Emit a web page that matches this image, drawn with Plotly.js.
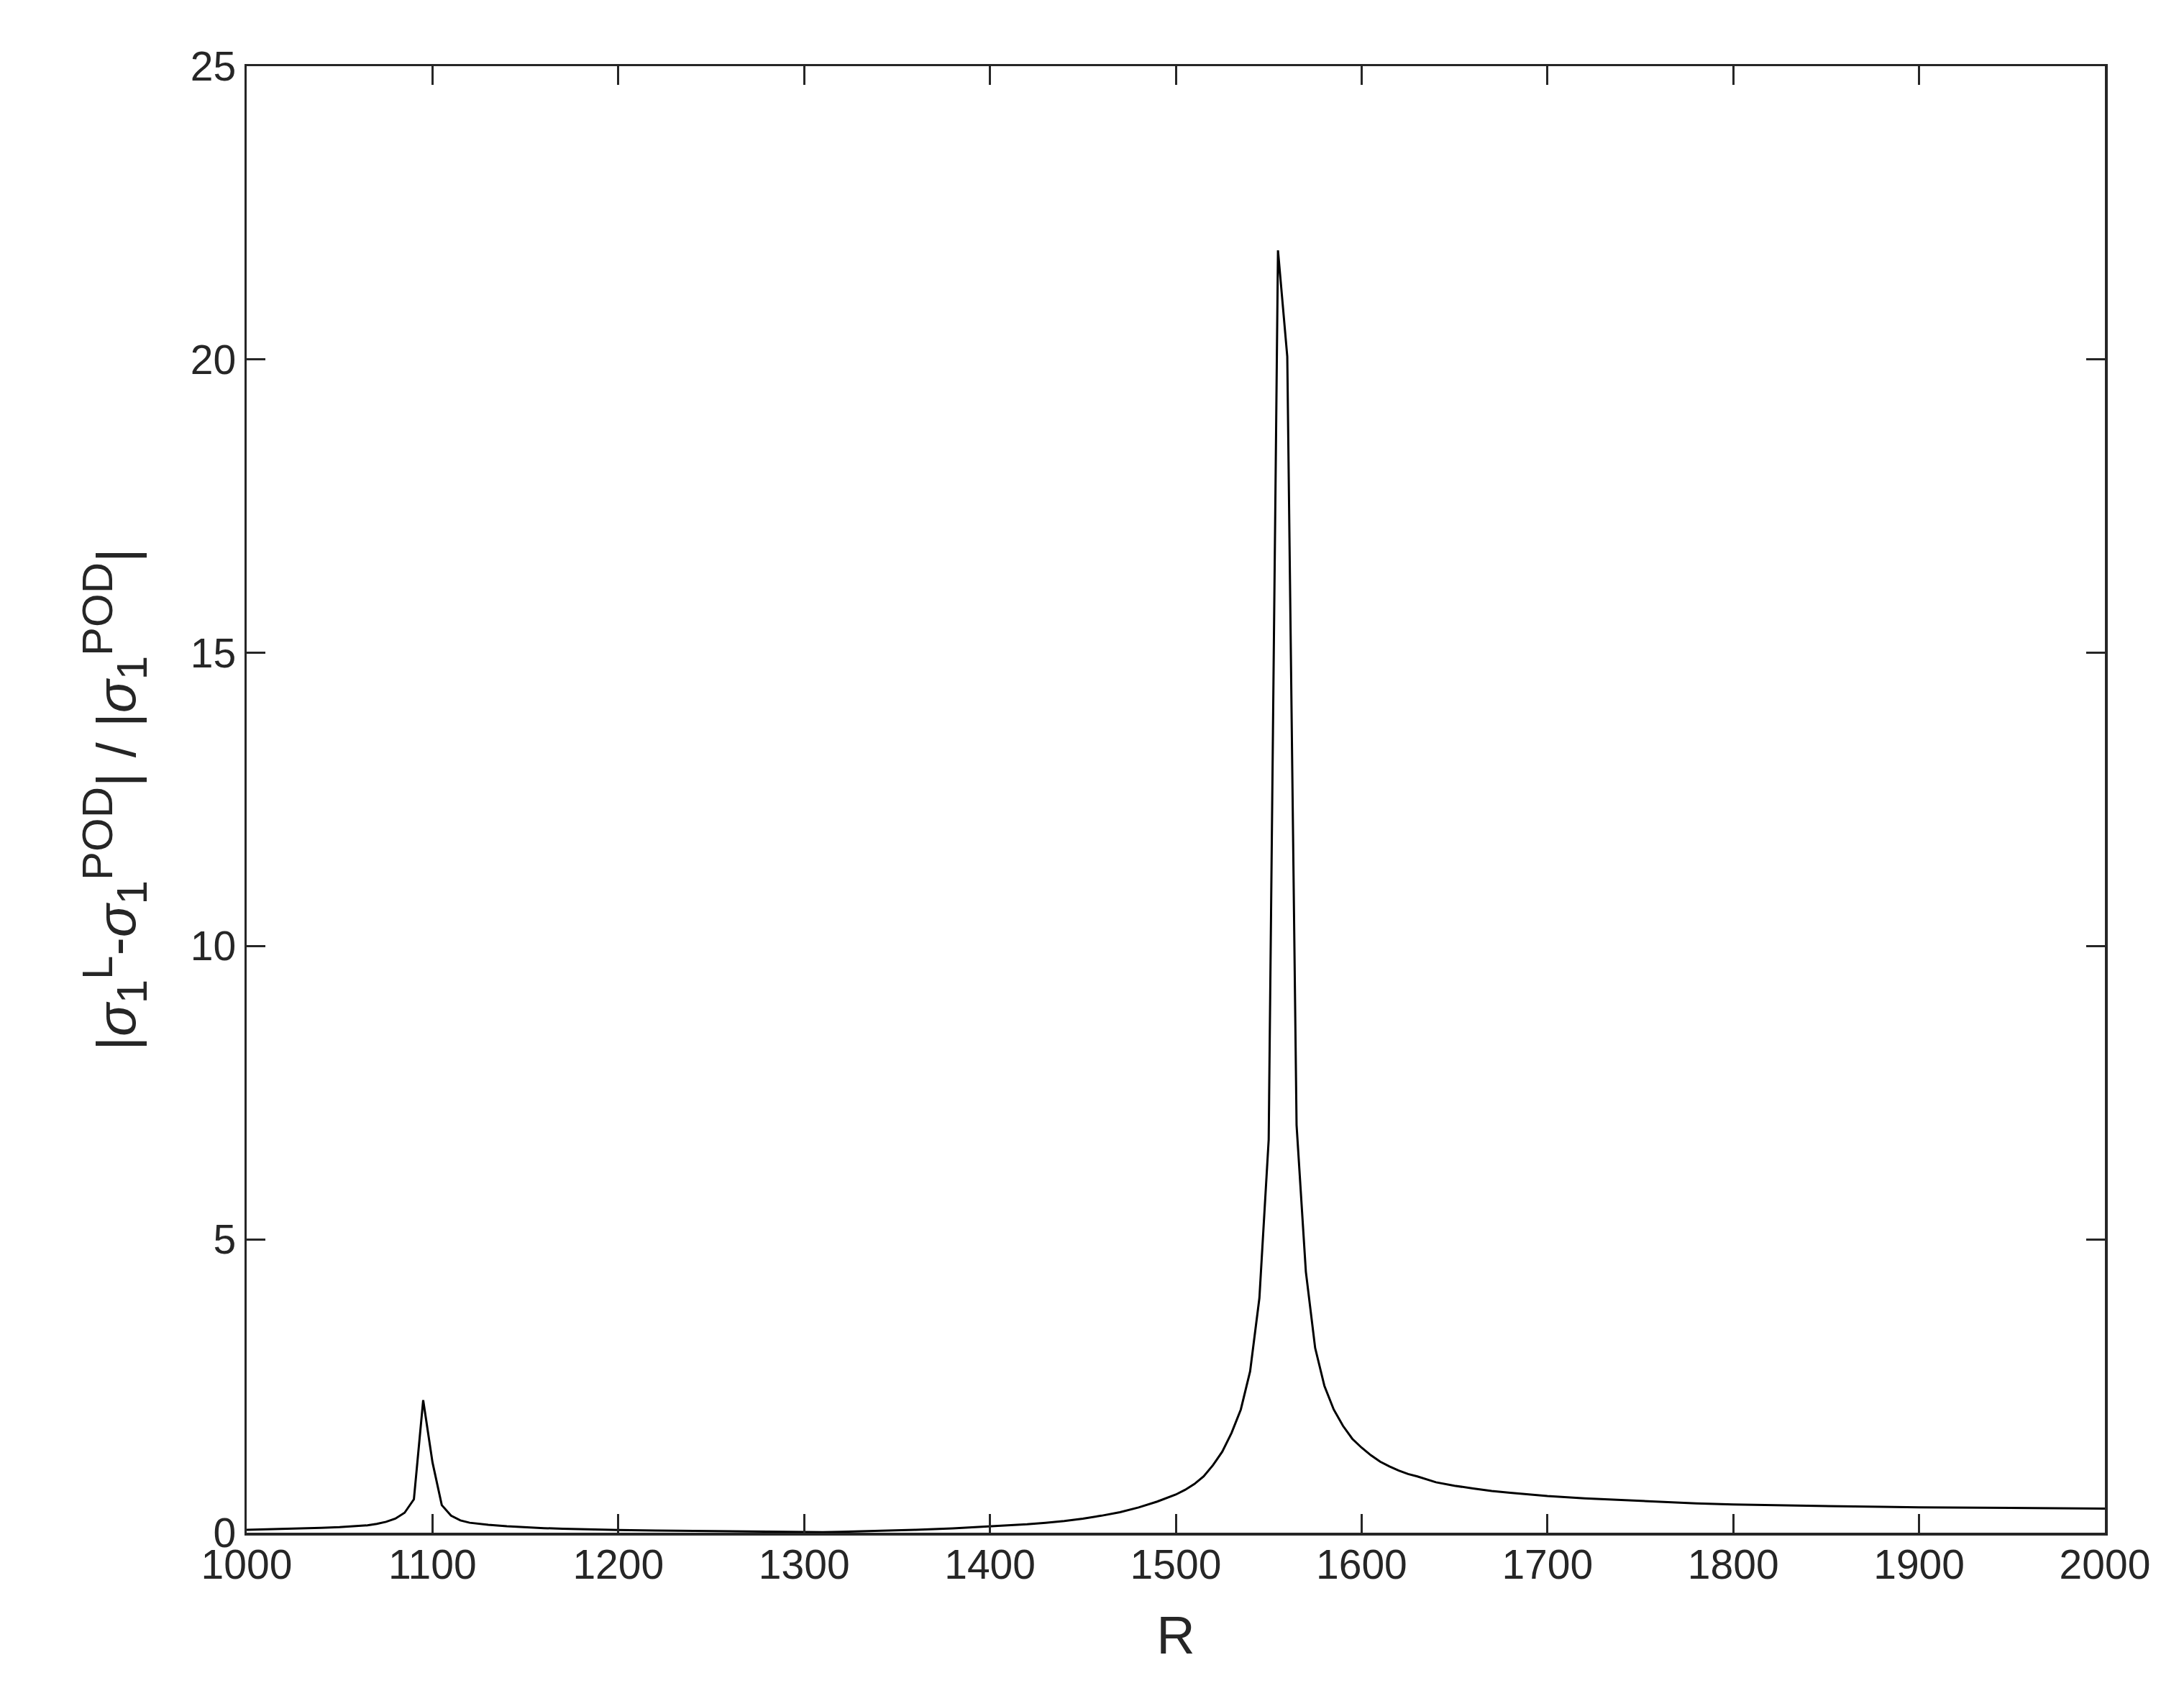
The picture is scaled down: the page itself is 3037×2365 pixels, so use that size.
<!DOCTYPE html>
<html>
<head>
<meta charset="utf-8">
<script src="https://cdn.plot.ly/plotly-3.0.1.min.js"></script>
<style>html,body{margin:0;padding:0;background:#fff;}#chart{width:3037px;height:2365px;}</style>
</head>
<body>
<div id="chart"></div>
<script>
const R = [1000,1010,1020,1030,1040,1050,1060,1065,1070,1075,1080,1085,1090,1095,1100,1105,1110,1115,1120,1125,1130,1140,1150,1160,1170,1180,1190,1200,1220,1240,1260,1280,1300,1310,1320,1340,1360,1380,1400,1410,1420,1430,1440,1450,1460,1470,1480,1490,1495,1500,1505,1510,1515,1520,1525,1530,1535,1540,1545,1550,1555,1560,1565,1570,1575,1580,1585,1590,1595,1600,1605,1610,1615,1620,1625,1630,1640,1650,1660,1670,1680,1690,1700,1720,1740,1760,1780,1800,1820,1840,1860,1880,1900,1920,1940,1960,1980,2000];
const ratio = [0.05,0.057,0.064,0.072,0.083,0.095,0.11,0.125,0.15,0.185,0.24,0.34,0.57,2.26,1.2,0.47,0.29,0.21,0.17,0.15,0.135,0.11,0.09,0.078,0.068,0.06,0.052,0.045,0.038,0.031,0.024,0.016,0.005,0.008,0.015,0.03,0.05,0.075,0.106,0.122,0.145,0.17,0.2,0.24,0.29,0.35,0.43,0.53,0.59,0.65,0.73,0.83,0.96,1.15,1.38,1.7,2.1,2.75,4.0,6.7,21.86,20.05,6.95,4.45,3.15,2.5,2.1,1.82,1.6,1.45,1.32,1.21,1.13,1.06,1.0,0.96,0.86,0.8,0.755,0.71,0.68,0.65,0.625,0.585,0.555,0.525,0.5,0.48,0.468,0.455,0.445,0.44,0.433,0.427,0.422,0.418,0.414,0.41];
const xTicks = [1000,1100,1200,1300,1400,1500,1600,1700,1800,1900,2000];
const yTicks = [0,5,10,15,20,25];
const xTitle = 'R';
const S = '<span style="font-size:60px">';
const yTitle = '|<i>σ</i><sub>' + S + '1</span></sub><sup>' + S + 'L</span></sup>-<i>σ</i><sub>' + S + '1</span></sub><sup>' + S + 'POD</span></sup>| / |<i>σ</i><sub>' + S + '1</span></sub><sup>' + S + 'POD</span></sup>|';

const axColor = '#262626';
const fontFam = '"Liberation Sans", Arial, Helvetica, sans-serif';
const common = {
  showline: true, mirror: 'ticks', linecolor: axColor, linewidth: 3.5,
  ticks: 'inside', ticklen: 26, tickwidth: 3, tickcolor: axColor,
  showgrid: false, zeroline: false,
  tickfont: {family: fontFam, size: 57, color: axColor},
  automargin: false
};
const layout = {
  width: 3037, height: 2365,
  margin: {l: 343, r: 110, t: 92, b: 234},
  paper_bgcolor: '#ffffff', plot_bgcolor: '#ffffff',
  showlegend: false,
  xaxis: Object.assign({}, common, {
    range: [1000, 2000], tickvals: xTicks, ticktext: xTicks.map(String),
    ticklabelstandoff: -8,
    title: {text: xTitle, font: {family: fontFam, size: 74, color: axColor}, standoff: 42}
  }),
  yaxis: Object.assign({}, common, {
    range: [0, 25], tickvals: yTicks, ticktext: yTicks.map(String),
    title: {text: yTitle, font: {family: fontFam, size: 76, color: axColor}, standoff: 52}
  })
};
const trace = {
  x: R, y: ratio, type: 'scatter', mode: 'lines',
  line: {color: '#000000', width: 3}, hoverinfo: 'none'
};
Plotly.newPlot('chart', [trace], layout, {displayModeBar: false, staticPlot: true});
</script>
</body>
</html>
